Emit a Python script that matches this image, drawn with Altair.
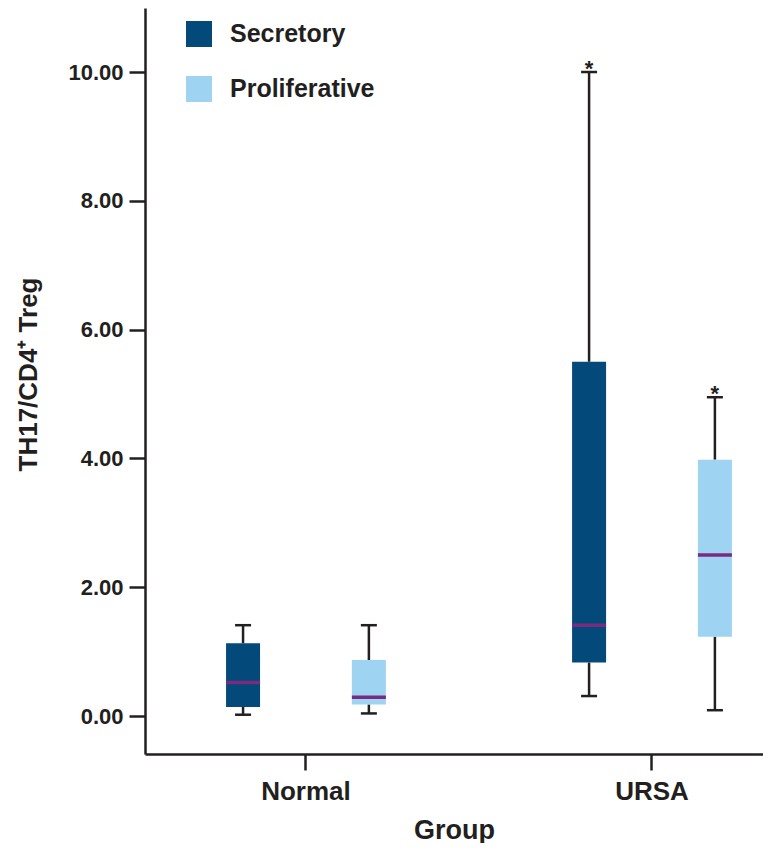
import altair as alt
import pandas as pd

groups = ["Normal", "Normal", "URSA", "URSA"]
phases = ["Secretory", "Proliferative", "Secretory", "Proliferative"]
whisker_low = [0.02, 0.04, 0.31, 0.09]
q1 = [0.14, 0.18, 0.83, 1.23]
median = [0.52, 0.29, 1.41, 2.50]
q3 = [1.13, 0.87, 5.50, 3.98]
whisker_high = [1.41, 1.41, 10.0, 4.95]
marker = ["", "", "*", "*"]

phase_order = ["Secretory", "Proliferative"]
phase_colors = ["#034A7A", "#9ED4F1"]
y_ticks = [0, 2, 4, 6, 8, 10]

df = pd.DataFrame({
    "group": groups, "phase": phases, "low": whisker_low, "q1": q1,
    "median": median, "q3": q3, "high": whisker_high, "marker": marker,
})

FONT = "Liberation Sans"
INK = "#231F20"

x = alt.X("group:N",
          scale=alt.Scale(paddingInner=0.6, paddingOuter=0.193, align=0.687),
          axis=alt.Axis(title="Group", labelAngle=0, labelFontSize=26, labelFont=FONT,
                        labelFontWeight="bold", labelColor=INK, labelPadding=8,
                        titleFontSize=27, titleFont=FONT, titleFontWeight="bold",
                        titleColor=INK, titlePadding=13, tickSize=16, tickWidth=2.5,
                        tickColor=INK, domainWidth=2.5, domainColor=INK, grid=False))
xo = alt.XOffset("phase:N", sort=phase_order,
                 scale=alt.Scale(domain=phase_order, paddingInner=0.9, paddingOuter=0))
yscale = alt.Scale(domain=[-0.59, 10.994], nice=False, zero=False)
yaxis = alt.Axis(title="TH17/CD4⁺ Treg", values=y_ticks, format=".2f",
                 labelFontSize=22, labelFont=FONT, labelFontWeight="bold", labelColor=INK,
                 labelPadding=6, titleFontSize=26, titleFont=FONT, titleFontWeight="bold",
                 titleColor=INK, titlePadding=26, titleY=366, tickSize=16, tickWidth=2.5,
                 tickColor=INK, domainWidth=2.5, domainColor=INK, grid=False)

base = alt.Chart(df).encode(x=x, xOffset=xo)

whisk_lo = base.mark_rule(color=INK, strokeWidth=2.5).encode(
    y=alt.Y("low:Q", scale=yscale, axis=yaxis), y2="q1:Q")
whisk_hi = base.mark_rule(color=INK, strokeWidth=2.5).encode(
    y=alt.Y("q3:Q", scale=yscale), y2="high:Q")
cap_lo = base.mark_tick(color=INK, size=16, thickness=2.5, opacity=1).encode(
    y=alt.Y("low:Q", scale=yscale))
cap_hi = base.mark_tick(color=INK, size=16, thickness=2.5, opacity=1).encode(
    y=alt.Y("high:Q", scale=yscale))
boxes = base.mark_bar(size=34, opacity=1).encode(
    y=alt.Y("q1:Q", scale=yscale), y2="q3:Q",
    color=alt.Color("phase:N", sort=phase_order,
                    scale=alt.Scale(domain=phase_order, range=phase_colors),
                    legend=alt.Legend(orient="none", legendX=41, legendY=13, title=None,
                                      symbolType="square", symbolSize=676,
                                      symbolStrokeWidth=0, symbolOpacity=1,
                                      labelFontSize=25, labelFont=FONT,
                                      labelFontWeight="bold", labelColor=INK,
                                      labelOffset=18, rowPadding=29, padding=0)))
med = base.mark_tick(color="#7B2B7F", size=34, thickness=3.5, opacity=1).encode(
    y=alt.Y("median:Q", scale=yscale))
stars = base.mark_text(fontSize=22, font=FONT, fontWeight="bold", color=INK,
                       baseline="alphabetic", dy=4).encode(
    y=alt.Y("high:Q", scale=yscale), text="marker:N")

chart = alt.layer(whisk_lo, whisk_hi, cap_lo, cap_hi, boxes, med, stars).properties(
    width=618, height=746,
    autosize=alt.AutoSizeParams(type="none"),
    padding={"left": 137, "top": 0, "right": 0, "bottom": 89},
).configure_view(stroke=None)

chart.save("out.html", embed_options={"renderer": "svg", "actions": False})
